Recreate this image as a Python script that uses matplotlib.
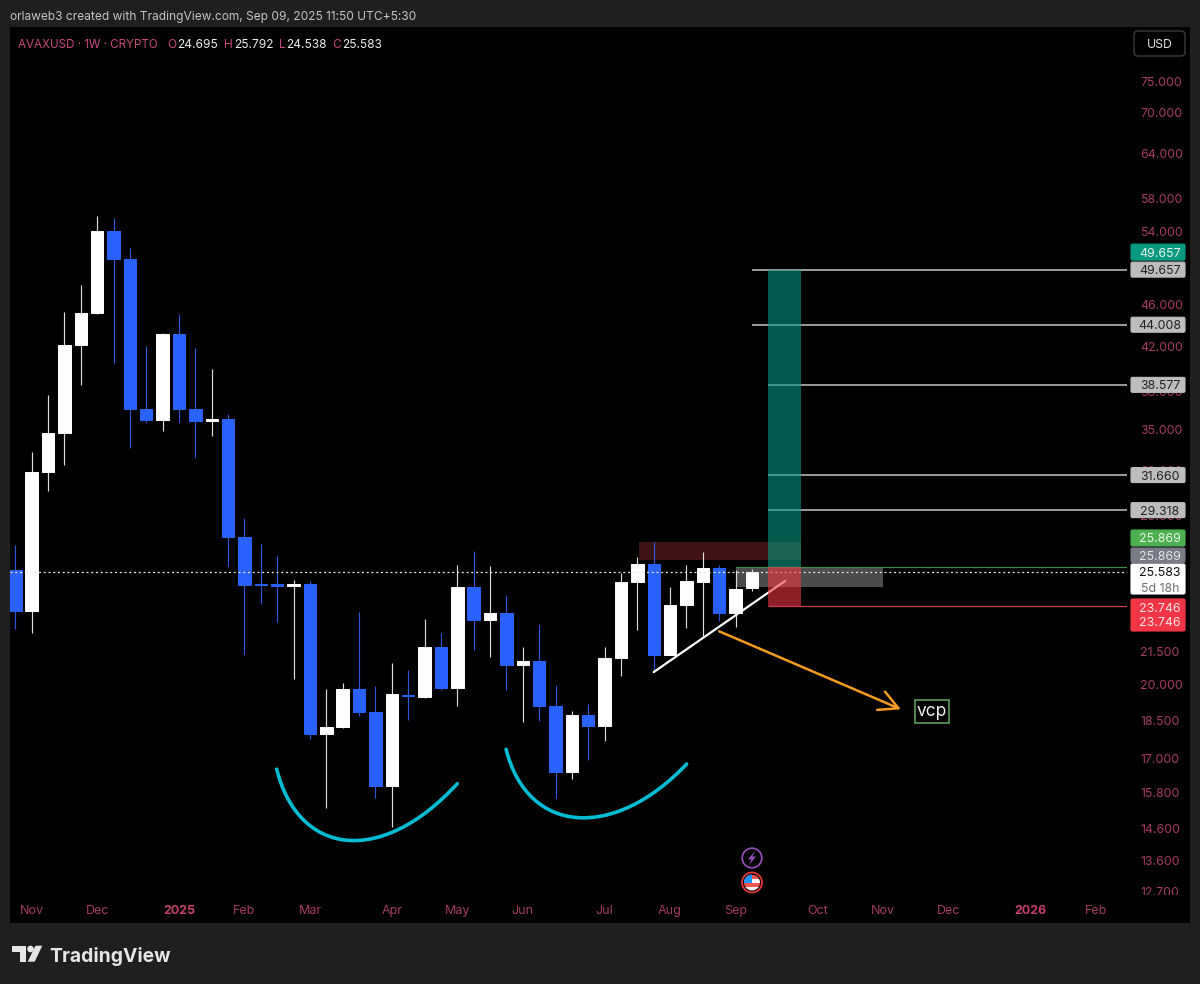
import numpy as np
import matplotlib
matplotlib.use('Agg')
import matplotlib.pyplot as plt
from matplotlib.patches import Rectangle, FancyBboxPatch, Circle, Polygon, PathPatch
from matplotlib.path import Path
from matplotlib.transforms import Affine2D, Bbox
from matplotlib.ticker import NullLocator

plt.rcParams['font.family'] = ['Inter', 'DejaVu Sans']

# ---------- data ----------
opens = [25.71, 23.52, 31.89, 34.71, 42.09, 45.15, 54.07, 50.78, 36.56, 35.74, 43.12, 36.56,
         35.64, 35.77, 27.62, 24.92, 24.91, 24.85, 24.94, 17.94, 18.23, 19.80, 18.83, 16.02,
         19.57, 19.48, 21.71, 19.87, 24.79, 23.03, 23.42, 20.87, 21.07, 19.09, 16.51, 18.72,
         18.26, 21.19, 25.05, 26.04, 21.34, 23.83, 25.06, 25.81, 23.40, 24.695]
highs = [27.16, 33.32, 37.72, 45.28, 48.00, 55.84, 55.56, 52.02, 42.00, 43.18, 45.05, 41.79,
         39.96, 36.16, 28.81, 27.22, 26.53, 25.16, 25.08, 19.81, 20.09, 23.45, 19.94, 20.99,
         20.65, 23.08, 22.41, 26.00, 26.82, 25.96, 24.34, 21.71, 22.78, 19.99, 18.88, 19.17,
         21.74, 25.56, 26.44, 27.34, 24.79, 26.00, 26.73, 26.00, 25.71, 25.792]
lows = [22.59, 22.40, 30.59, 32.36, 38.56, 45.05, 40.44, 33.61, 35.50, 34.86, 35.53, 32.84,
        34.48, 25.94, 21.38, 23.87, 22.93, 20.24, 17.76, 15.28, 18.20, 18.69, 15.59, 14.65,
        18.51, 19.43, 19.77, 19.09, 21.58, 21.26, 19.77, 18.44, 18.47, 15.61, 16.27, 16.96,
        17.69, 20.40, 22.55, 20.58, 21.33, 22.64, 22.22, 23.01, 22.68, 24.538]
closes = [23.52, 31.89, 34.73, 42.09, 45.15, 54.07, 50.78, 36.56, 35.74, 43.12, 36.56, 35.66,
          35.77, 27.62, 24.88, 24.86, 24.85, 24.95, 17.94, 18.24, 19.80, 18.83, 16.02, 19.58,
          19.51, 21.71, 19.87, 24.79, 23.03, 23.42, 20.87, 21.07, 19.09, 16.51, 18.72, 18.26,
          21.19, 25.05, 26.04, 21.34, 23.83, 25.08, 25.81, 23.40, 24.68, 25.583]

y_ticks = [75, 70, 64, 58, 54, 46, 42, 38, 35, 32, 29, 21.5, 20, 18.5, 17, 15.8, 14.6, 13.6, 12.7]
x_tick_pos = [1, 5, 10, 14, 18, 23, 27, 31, 36, 40, 44, 49, 53, 57, 62, 66]
x_tick_lab = ['Nov', 'Dec', '2025', 'Feb', 'Mar', 'Apr', 'May', 'Jun', 'Jul', 'Aug', 'Sep', 'Oct', 'Nov', 'Dec', '2026', 'Feb']

last_price = 25.583
entry = 25.869
stop = 23.746
target = 49.657
levels = [49.657, 44.008, 38.577, 31.660, 29.318]
level_start = [45, 45, 46, 46, 46]

# cubic Bezier control points of the two hand-drawn arcs
curve1_x = [15.97, 17.27, 22.28, 27.00]
curve1_y = [16.62, 13.77, 13.39, 16.10]
curve2_x = [29.98, 31.32, 36.63, 41.01]
curve2_y = [17.36, 14.36, 14.23, 16.81]

trend_x = [39.0, 47.02]
trend_y = [20.56, 25.10]
arrow_x = [43.0, 54.1]
arrow_y = [22.48, 18.95]

# ---------- layout ----------
W, H = 1200, 984
BG = '#1f1f1f'
BLUE = '#2962ff'
WHITE = '#ffffff'
TICK = '#a63b62'
PINK = '#c9487c'
VAL_FS = 8.9
fig = plt.figure(figsize=(W / 100, H / 100), dpi=100, facecolor=BG)
T = Affine2D().scale(1, -1).translate(0, H)   # top-left pixel coordinates

fig.add_artist(Rectangle((10, 27), 1180, 896, transform=T, fc='black', ec='none', zorder=-5))

L, R, TOP, BOT = 10, 1127, 27, 897
ax = fig.add_axes([L / W, 1 - BOT / H, (R - L) / W, (BOT - TOP) / H], facecolor='black', zorder=1)
ax.set_yscale('log')
ax.set_ylim(12.56, 84.5)
ax.set_xlim(-0.324, 67.91)
for s in ax.spines.values():
    s.set_visible(False)

ax.yaxis.tick_right()
ax.set_yticks(y_ticks)
ax.set_yticklabels([f'{v:.3f}' for v in y_ticks])
ax.yaxis.set_minor_locator(NullLocator())
ax.tick_params(axis='y', length=0, pad=9.4, labelsize=VAL_FS, labelcolor=TICK)
for lab in ax.yaxis.get_ticklabels():
    lab.set_clip_box(Bbox([[1130, H - 894.5], [1190, H]]))
    lab.set_clip_on(True)

ax.set_xticks(x_tick_pos)
ax.set_xticklabels(x_tick_lab)
ax.tick_params(axis='x', length=0, pad=6, labelsize=9.0, labelcolor=TICK)
for lab in ax.get_xticklabels():
    if lab.get_text().startswith('20'):
        lab.set_fontweight('bold')
        lab.set_color('#c4406e')

# ---------- candles ----------
idx = np.arange(len(opens))
o, h, l, c = map(np.array, (opens, highs, lows, closes))
up = c >= o
body_colors = np.where(up, WHITE, BLUE)
wick_colors = np.where(up, '#dcdcdc', '#2f58d8')
ax.vlines(idx, l, h, colors=wick_colors, lw=0.85, zorder=3)
ax.bar(idx, np.abs(c - o), bottom=np.minimum(o, c), width=0.76, color=body_colors,
       edgecolor=body_colors, lw=0.7, zorder=4)

# ---------- zones ----------
ax.add_patch(Rectangle((38.1, 26.28), 48 - 38.1, 27.34 - 26.28, fc='#3d1315', ec='none', zorder=1))
ax.add_patch(Rectangle((44, 24.76), 53 - 44, entry - 24.76, fc='#4b4b4b', ec='none', zorder=1))
ax.add_patch(Rectangle((46, entry), 2, target - entry, fc='#089981', alpha=0.6, ec='none', zorder=6))
ax.add_patch(Rectangle((46, stop), 2, entry - stop, fc='#f23645', alpha=0.58, ec='none', zorder=6))
ax.hlines(entry, 44, 67.91, colors='#3f8a45', lw=0.9, zorder=5)
ax.hlines(stop, 46, 67.91, colors='#c9404a', lw=0.9, zorder=5)
ax.hlines(levels, level_start, 67.91, colors='#c4c4c4', lw=1.1, zorder=5)
ax.axhline(last_price, color='#e8e8e8', lw=0.9, ls=(0, (1.6, 2.2)), zorder=5)

# ---------- drawings ----------
for xs, ys in ((curve1_x, curve1_y), (curve2_x, curve2_y)):
    arc = Path(np.column_stack([xs, ys]), [Path.MOVETO, Path.CURVE4, Path.CURVE4, Path.CURVE4])
    ax.add_patch(PathPatch(arc, fc='none', ec='#00bcd4', lw=2.6, capstyle='round', zorder=5))

ax.plot(trend_x, trend_y, color='white', lw=1.6, solid_capstyle='round', zorder=5)
ax.annotate('', xy=(arrow_x[1], arrow_y[1]), xytext=(arrow_x[0], arrow_y[0]),
            arrowprops=dict(arrowstyle='->,head_length=0.8,head_width=0.42', color='#f59a23', lw=1.8,
                            shrinkA=0, shrinkB=0, mutation_scale=17), zorder=5)

fig.add_artist(Rectangle((914.5, 699.5), 34.5, 23.5, transform=T, fc='black', ec='#5f9c5f', lw=1.2, zorder=3))
fig.text(931.7, 711.5, 'vcp', transform=T, color='#f0f0f0', fontsize=12.5, ha='center', va='center', zorder=4)

# ---------- price labels ----------
def ypx(p):
    return H - ax.transData.transform((0, p))[1]

def tag(y0, y1, fc, text, tc, text2=None, tc2=None):
    fig.add_artist(FancyBboxPatch((1131, y0 + 1), 54, y1 - y0 - 2, boxstyle='round,pad=0,rounding_size=1.5',
                                  transform=T, fc=fc, ec=fc, lw=0.8, zorder=3))
    if text2 is None:
        fig.text(1160, (y0 + y1) / 2, text, transform=T, color=tc, fontsize=VAL_FS, ha='center', va='center_baseline', zorder=4)
    else:
        fig.text(1160, y0 + 9, text, transform=T, color=tc, fontsize=VAL_FS, ha='center', va='center_baseline', zorder=4)
        fig.text(1160, y0 + 24, text2, transform=T, color=tc2, fontsize=VAL_FS, ha='center', va='center_baseline', zorder=4)

for v in levels:
    yy = ypx(v)
    tag(yy - 8.5, yy + 8.5, '#bdbdbd', f'{v:.3f}', '#222222')
yy = ypx(target)
tag(yy - 26.5, yy - 8.5, '#089981', f'{target:.3f}', '#e8f5f1')
tag(529, 547, '#4caf50', f'{entry:.3f}', '#ecf7ec')
tag(547, 563.5, '#787b86', f'{entry:.3f}', '#e6e6e8')
tag(563, 595, '#ffffff', f'{last_price:.3f}', '#111111', '5d 18h', '#6f6f6f')
tag(598, 632, '#f23645', f'{stop:.3f}', '#fbe4e6', f'{stop:.3f}', '#fbe4e6')

# ---------- header ----------
fig.text(10, 15.5, 'orlaweb3 created with TradingView.com, Sep 09, 2025 11:50 UTC+5:30', transform=T,
         color='#c4c4c4', fontsize=8.6, ha='left', va='center_baseline')
fig.text(18.3, 43, 'AVAXUSD · 1W · CRYPTO', transform=T, color=PINK, fontsize=8.4, ha='left', va='center_baseline', zorder=4)
for x, s, col in [(167.7, 'O', PINK), (177.3, '24.695', '#ececec'), (224.3, 'H', PINK), (234, '25.792', '#ececec'),
                  (279, 'L', PINK), (286.3, '24.538', '#ececec'), (332.7, 'C', PINK), (342, '25.583', '#ececec')]:
    fig.text(x, 43, s, transform=T, color=col, fontsize=8.6, ha='left', va='center_baseline', zorder=4)

fig.add_artist(FancyBboxPatch((1134, 31), 51, 25, boxstyle='round,pad=0,rounding_size=4', transform=T,
                              fc='black', ec='#3c3c3c', lw=1, zorder=3))
fig.text(1159.5, 43.5, 'USD', transform=T, color='#e4e4e4', fontsize=8.8, ha='center', va='center_baseline', zorder=4)

# ---------- event icons ----------
fig.add_artist(Circle((752, 858), 9.8, transform=T, fc='black', ec='#9b4fc0', lw=1.2, zorder=3))
fig.add_artist(Polygon([(755, 851), (748, 859.5), (751.5, 859.5), (749, 865), (756, 856.5), (752.5, 856.5)],
                       transform=T, fc='#9b4fc0', ec='none', zorder=4))
fig.add_artist(Circle((752, 882.5), 10, transform=T, fc='black', ec='#e53935', lw=1.3, zorder=3))
flag_clip = Circle((752, 882.5), 8, transform=T)
for k in range(4):
    col = '#ef5350' if k % 2 == 0 else '#f5f5f5'
    a = fig.add_artist(Rectangle((743, 874.5 + k * 4), 18, 4, transform=T, fc=col, ec='none', zorder=4))
    a.set_clip_path(flag_clip)
a = fig.add_artist(Rectangle((743, 874), 9, 8.5, transform=T, fc='#2196f3', ec='none', zorder=5))
a.set_clip_path(flag_clip)

# ---------- footer ----------
LOGO = '#e6e6e6'
fig.add_artist(Polygon([(12.3, 945.7), (26, 945.7), (26, 961.7), (20, 961.7), (20, 952), (12.3, 952)],
                       transform=T, fc=LOGO, ec='none'))
fig.add_artist(Circle((30.5, 949), 3.3, transform=T, fc=LOGO, ec='none'))
fig.add_artist(Polygon([(35.5, 945.7), (42.3, 945.7), (34.7, 961.7), (27.7, 961.7)], transform=T, fc=LOGO, ec='none'))
fig.text(49.5, 954, 'TradingView', transform=T, color=LOGO, fontsize=13.9, fontweight='bold', ha='left', va='center_baseline')

fig.savefig('out.png', dpi=100, facecolor=BG)
